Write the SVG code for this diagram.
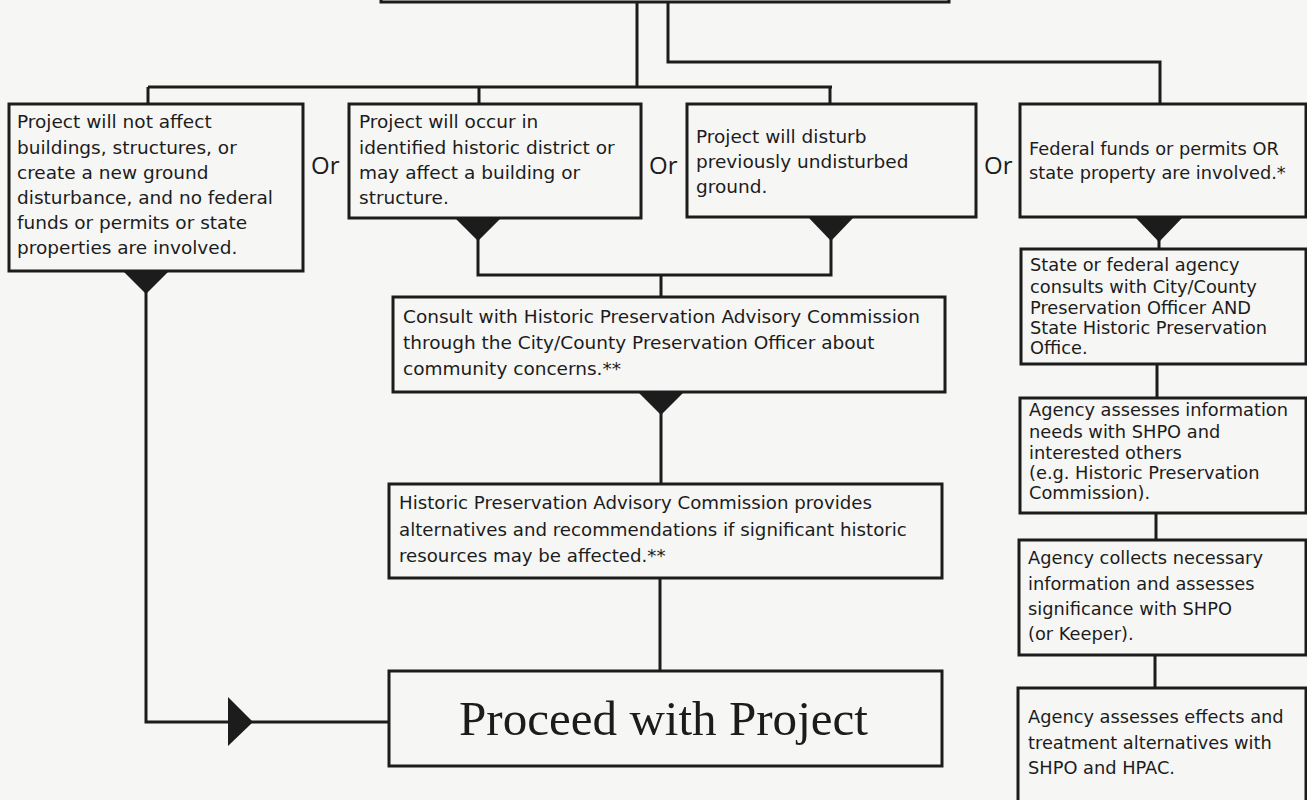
<svg xmlns="http://www.w3.org/2000/svg" width="1307" height="800" viewBox="0 0 1307 800">
<style>
.box{fill:none;stroke:#1c1c1c;stroke-width:3}
.ln{fill:none;stroke:#1c1c1c;stroke-width:3}
.tri{fill:#1c1c1c;stroke:none}
.t{font-family:"DejaVu Sans","Open Sans",sans-serif;font-size:18.5px;fill:#1c1c1c}
.s{font-size:18.2px}
.r{font-size:17.8px}
.or{font-family:"Open Sans","DejaVu Sans",sans-serif;font-size:24px;fill:#1c1c1c}
.big{font-family:"Liberation Serif","DejaVu Serif",serif;font-size:48px;fill:#1c1c1c}
</style>
<rect x="0" y="0" width="1307" height="800" fill="#f6f6f5"/>
<g id="connectors">
<path class="ln" d="M637,2 V87 M148,87 H832 M148,87 V104 M479,87 V104 M830,87 V104"/>
<path class="ln" d="M668,2 V62 H1160 V104"/>
<path class="ln" d="M146,271 V722 H389"/>
<polygon class="tri" points="123,271 169,271 146,294"/>
<polygon class="tri" points="228,697 228,746 253,722"/>
<path class="ln" d="M478,218 V275 H831 V217"/>
<polygon class="tri" points="455,218 501,218 478,241"/>
<polygon class="tri" points="808,217 854,217 831,241"/>
<path class="ln" d="M661,275 V297"/>
<path class="ln" d="M661,392 V484"/>
<polygon class="tri" points="638,392 684,392 661,415"/>
<path class="ln" d="M660,578 V671"/>
<path class="ln" d="M1159,217 V249"/>
<polygon class="tri" points="1135,217 1183,217 1159,242"/>
<path class="ln" d="M1157,364 V398 M1156,513 V540 M1155,655 V688"/>
</g>
<g id="top"><rect class="box" x="381" y="-60" width="568" height="62"/></g>
<g id="n1">
<rect class="box" x="9" y="104" width="294" height="167"/>
<text class="t" x="17" y="128">Project will not affect</text>
<text class="t" x="17" y="154">buildings, structures, or</text>
<text class="t" x="17" y="179">create a new ground</text>
<text class="t" x="17" y="204">disturbance, and no federal</text>
<text class="t" x="17" y="229">funds or permits or state</text>
<text class="t" x="17" y="254">properties are involved.</text>
</g>
<g id="or1"><text class="or" x="311" y="174">Or</text></g>
<g id="n2">
<rect class="box" x="349" y="104" width="292" height="114"/>
<text class="t" x="359" y="128">Project will occur in</text>
<text class="t" x="359" y="154">identified historic district or</text>
<text class="t" x="359" y="179">may affect a building or</text>
<text class="t" x="359" y="204">structure.</text>
</g>
<g id="or2"><text class="or" x="649" y="174">Or</text></g>
<g id="n3">
<rect class="box" x="687" y="104" width="289" height="113"/>
<text class="t" x="696" y="143">Project will disturb</text>
<text class="t" x="696" y="168">previously undisturbed</text>
<text class="t" x="696" y="193">ground.</text>
</g>
<g id="or3"><text class="or" x="984" y="174">Or</text></g>
<g id="n4">
<rect class="box" x="1020" y="104" width="286" height="113"/>
<text class="t r" x="1029" y="155">Federal funds or permits OR</text>
<text class="t r" x="1029" y="179">state property are involved.*</text>
</g>
<g id="n5">
<rect class="box" x="393" y="297" width="552" height="95"/>
<text class="t" x="403" y="323">Consult with Historic Preservation Advisory Commission</text>
<text class="t" x="403" y="349">through the City/County Preservation Officer about</text>
<text class="t" x="403" y="375">community concerns.**</text>
</g>
<g id="n6">
<rect class="box" x="389" y="484" width="553" height="94"/>
<text class="t s" x="399" y="509">Historic Preservation Advisory Commission provides</text>
<text class="t s" x="399" y="536">alternatives and recommendations if significant historic</text>
<text class="t s" x="399" y="562">resources may be affected.**</text>
</g>
<g id="n7">
<rect class="box" x="389" y="671" width="553" height="95"/>
<text class="big" x="459" y="735" textLength="409" lengthAdjust="spacingAndGlyphs">Proceed with Project</text>
</g>
<g id="n8">
<rect class="box" x="1021" y="249" width="285" height="115"/>
<text class="t r" x="1030" y="271">State or federal agency</text>
<text class="t r" x="1030" y="293">consults with City/County</text>
<text class="t r" x="1030" y="314">Preservation Officer AND</text>
<text class="t r" x="1030" y="334">State Historic Preservation</text>
<text class="t r" x="1030" y="354">Office.</text>
</g>
<g id="n9">
<rect class="box" x="1020" y="398" width="286" height="115"/>
<text class="t r" x="1029" y="416">Agency assesses information</text>
<text class="t r" x="1029" y="438">needs with SHPO and</text>
<text class="t r" x="1029" y="459">interested others</text>
<text class="t r" x="1029" y="479">(e.g. Historic Preservation</text>
<text class="t r" x="1029" y="499">Commission).</text>
</g>
<g id="n10">
<rect class="box" x="1019" y="540" width="287" height="115"/>
<text class="t r" x="1028" y="564">Agency collects necessary</text>
<text class="t r" x="1028" y="590">information and assesses</text>
<text class="t r" x="1028" y="615">significance with SHPO</text>
<text class="t r" x="1028" y="640">(or Keeper).</text>
</g>
<g id="n11">
<rect class="box" x="1018" y="688" width="288" height="140"/>
<text class="t r" x="1028" y="723">Agency assesses effects and</text>
<text class="t r" x="1028" y="749">treatment alternatives with</text>
<text class="t r" x="1028" y="774">SHPO and HPAC.</text>
</g>
</svg>
